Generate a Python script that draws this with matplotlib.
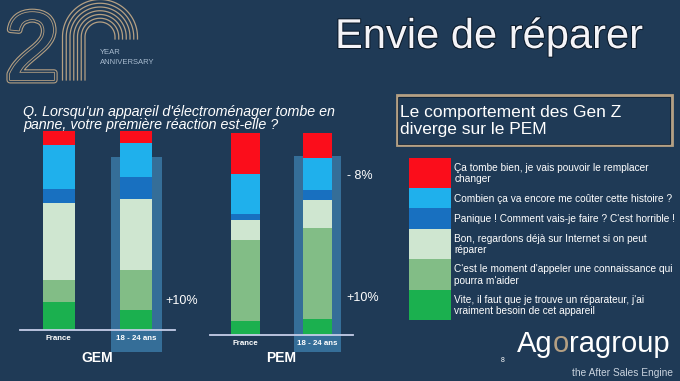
import numpy as np
import matplotlib.pyplot as plt
import matplotlib.patheffects as pe
from matplotlib.patches import Rectangle

plt.rcParams['font.family'] = ['Liberation Sans', 'DejaVu Sans']

# --- donnees (en % de repondants, du bas vers le haut de la barre) ---
categories = ["France", "18 - 24 ans"]
reponses = [
    "Vite, il faut que je trouve un réparateur, j'ai\nvraiment besoin de cet appareil",
    "C'est le moment d'appeler une connaissance qui\npourra m'aider",
    "Bon, regardons déjà sur Internet si on peut\nréparer",
    "Panique ! Comment vais-je faire ? C'est horrible !",
    "Combien ça va encore me coûter cette histoire ?",
    "Ça tombe bien, je vais pouvoir le remplacer\nchanger",
]
gemFrance = [14, 11, 39, 7, 22, 7]
gemJeunes = [10, 20, 36, 11, 17, 6]
pemFrance = [7, 40, 10, 3, 20, 20]
pemJeunes = [8, 45, 14, 5, 16, 12]

couleurs = ['#1bb04f', '#82bd86', '#cfe6d0', '#1870c0', '#1fb0ec', '#fb0d1b']
fond = '#1f3a56'
boite = '#356e98'
or_ = '#b5a083'
blanc = 'white'

W, H = 680, 381
fig = plt.figure(figsize=(W / 100, H / 100), dpi=100, facecolor=fond)

# axes de decor en coordonnees pixels (y vers le bas)
deco = fig.add_axes([0, 0, 1, 1])
deco.set_xlim(0, W)
deco.set_ylim(H, 0)
deco.axis('off')


def axesPixels(x0, y0, x1, y1):
    return fig.add_axes([x0 / W, 1 - y1 / H, (x1 - x0) / W, (y1 - y0) / H])


def dessineGroupe(ax, valFrance, valJeunes, boiteHaut, boiteBas):
    x = np.arange(len(categories))
    ax.set_facecolor('none')
    # rectangle de mise en avant des 18-24 ans
    ax.bar(1, boiteHaut - boiteBas, bottom=boiteBas, width=0.66, color=boite,
           clip_on=False, zorder=0)
    base = np.zeros(len(categories))
    for k in range(len(reponses)):
        vals = np.array([valFrance[k], valJeunes[k]])
        ax.bar(x, vals, bottom=base, width=0.41, color=couleurs[k], zorder=2)
        base += vals
    ax.axhline(0, color='#c5cde8', lw=1.3, zorder=3, clip_on=False)
    ax.set_xlim(-0.5, 1.5)
    ax.set_ylim(0, 100)
    ax.set_xticks(x, categories, color=blanc, fontsize=5.7, fontweight='bold')
    ax.tick_params(axis='x', length=0, pad=3.5)
    ax.set_yticks([])
    for s in ax.spines.values():
        s.set_visible(False)


axGem = axesPixels(20, 131, 175, 330)
dessineGroupe(axGem, gemFrance, gemJeunes, 86.8, -10.9)
axGem.text(1.37, 14.6, "+10%", color=blanc, fontsize=9, va='center', ha='left')

axPem = axesPixels(210, 133.3, 353, 335)
dessineGroupe(axPem, pemFrance, pemJeunes, 88.7, -8.4)
axPem.text(1.41, 78.8, "- 8%", color=blanc, fontsize=9, va='center', ha='left')
axPem.text(1.41, 18.3, "+10%", color=blanc, fontsize=9, va='center', ha='left')

deco.text(97, 358, "GEM", color=blanc, fontsize=10, fontweight='bold', ha='center', va='center')
deco.text(281, 358, "PEM", color=blanc, fontsize=10, fontweight='bold', ha='center', va='center')

# titre
deco.text(335, 48, "Envie de réparer", color='#f4f4f8', fontsize=30, ha='left', va='baseline',
          path_effects=[pe.withStroke(linewidth=1.5, foreground='#0c1a2a')])

# question
deco.text(23, 118.5, "Q. Lorsqu'un appareil d'électroménager tombe en\npanne, votre première réaction est-elle ?",
          color=blanc, fontsize=10.3, style='italic', ha='left', va='center', linespacing=0.95)

# encadre
deco.add_patch(Rectangle((396.5, 95), 275, 50, fill=False, edgecolor=or_, lw=2))
deco.add_patch(Rectangle((398, 96.5), 272, 47, fill=False, edgecolor='#0f2033', lw=0.6))
deco.text(400, 121, "Le comportement des Gen Z\ndiverge sur le PEM", color=blanc, fontsize=12.5,
          ha='left', va='center', linespacing=1.15)

# legende
hauteurs = [30, 30.7, 30, 21, 20.6, 30]   # du bas vers le haut
yBas = 320
for k in range(len(reponses)):
    h = hauteurs[k]
    deco.add_patch(Rectangle((409, yBas - h), 42, h, color=couleurs[k], lw=0))
    deco.text(454.5, yBas - h / 2 + 0.5, reponses[k], color=blanc, fontsize=7.3, ha='left', va='center',
              linespacing=1.17)
    yBas -= h

# logo 20 ans
deco.text(5, 80, "2", fontsize=70, color=fond, ha='left', va='baseline',
          path_effects=[pe.Stroke(linewidth=5, foreground=or_), pe.Stroke(linewidth=3.4, foreground=fond),
                        pe.Stroke(linewidth=1.2, foreground=or_), pe.Normal()])
t = np.linspace(0, np.pi, 60)
for r in np.linspace(15, 37.5, 7):
    xs = np.concatenate([[100 + r], 100 + r * np.cos(t), [100 - r]])
    ys = np.concatenate([[39], 37 - r * np.sin(t), [80]])
    deco.plot(xs, ys, color=or_, lw=0.9)
deco.text(100, 53, "YEAR", color='#a9bcd0', fontsize=5.5, ha='left', va='center')
deco.text(100, 63, "ANNIVERSARY", color='#a9bcd0', fontsize=5.5, ha='left', va='center')

# logo Agoragroup
t1 = deco.text(517, 352, "Ag", color=blanc, fontsize=21, ha='left', va='baseline')
t2 = deco.annotate("o", xy=(1, 0), xycoords=t1, color=or_, fontsize=21, ha='left', va='bottom')
deco.annotate("ragroup", xy=(1, 0), xycoords=t2, color=blanc, fontsize=21, ha='left', va='bottom')
deco.text(673, 373, "the After Sales Engine", color='#c9d3de', fontsize=7.3, ha='right', va='center')
deco.text(503, 360, "8", color=blanc, fontsize=5, ha='center', va='center')

fig.savefig('out.png', dpi=100, facecolor=fond)
